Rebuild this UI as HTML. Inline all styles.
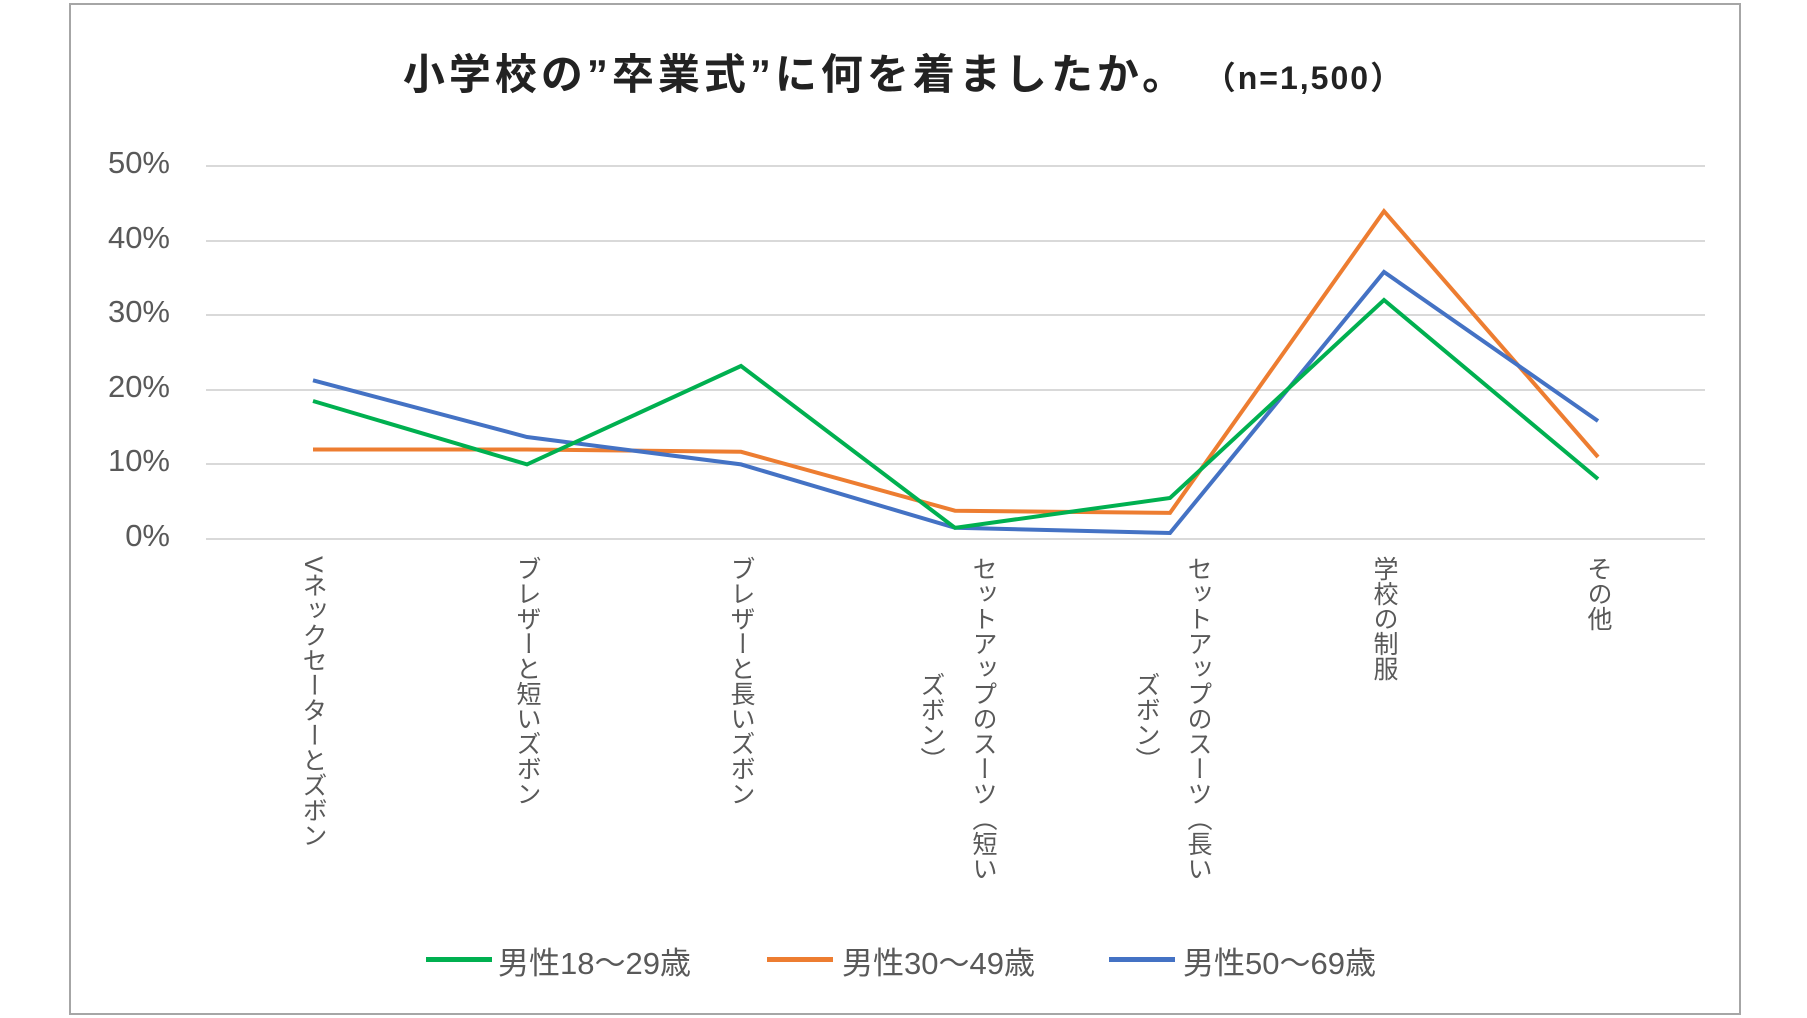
<!DOCTYPE html>
<html><head><meta charset="utf-8"><style>
body{margin:0;width:1807px;height:1018px;background:#fff;position:relative;overflow:hidden;font-family:"Liberation Sans","Noto Sans CJK JP",sans-serif}
.frame{position:absolute;left:69px;top:3px;width:1672px;height:1012px;border:2px solid #a6a6a6;box-sizing:border-box}
.title{position:absolute;left:0;width:1807px;top:41px;text-align:center;font-size:42px;font-weight:bold;color:#222;letter-spacing:4px}
.title span{font-size:32px;letter-spacing:2px}
.yl{position:absolute;left:70px;width:100px;text-align:right;font-size:31px;color:#595959;line-height:30px}
.cl{position:absolute;top:556px;writing-mode:vertical-rl;font-size:25px;color:#595959;line-height:30px;white-space:pre}
.lg{position:absolute;top:938px;font-size:31px;color:#595959}
.lgl{position:absolute;top:957px;height:5px;width:66px}
</style></head><body>
<div class="frame"></div>
<div class="title">小学校の”卒業式”に何を着ましたか。 <span>（n=1,500）</span></div>
<svg width="1807" height="1018" style="position:absolute;left:0;top:0">
<g stroke="#d9d9d9" stroke-width="2">
<line x1="206" x2="1705" y1="166" y2="166"/><line x1="206" x2="1705" y1="241" y2="241"/>
<line x1="206" x2="1705" y1="315" y2="315"/><line x1="206" x2="1705" y1="390" y2="390"/>
<line x1="206" x2="1705" y1="464" y2="464"/><line x1="206" x2="1705" y1="539" y2="539"/>
</g>
<g fill="none" stroke-width="4" stroke-linejoin="miter">
<polyline stroke="#ed7d31" points="313,449.5 527,449.5 741,451.8 955,510.7 1170,512.9 1384,211.2 1598,457"/>
<polyline stroke="#4472c4" points="313,380.3 527,437 741,464.4 955,527.8 1170,533 1384,272 1598,421"/>
<polyline stroke="#00b050" points="313,401 527,464.4 741,366 955,527.8 1170,498 1384,300 1598,479"/>
</g>
</svg>
<div class="yl" style="top:148px">50%</div>
<div class="yl" style="top:223px">40%</div>
<div class="yl" style="top:297px">30%</div>
<div class="yl" style="top:372px">20%</div>
<div class="yl" style="top:446px">10%</div>
<div class="yl" style="top:521px">0%</div>
<div class="cl" style="left:298px">Vネックセーターとズボン</div>
<div class="cl" style="left:512px">ブレザーと短いズボン</div>
<div class="cl" style="left:726px">ブレザーと長いズボン</div>
<div class="cl" style="left:968px">セットアップのスーツ（短い</div>
<div class="cl" style="left:916px;top:672px">ズボン）</div>
<div class="cl" style="left:1183px">セットアップのスーツ（長い</div>
<div class="cl" style="left:1131px;top:672px">ズボン）</div>
<div class="cl" style="left:1369px">学校の制服</div>
<div class="cl" style="left:1583px">その他</div>
<div class="lgl" style="left:426px;background:#00b050"></div><div class="lg" style="left:498px">男性18～29歳</div>
<div class="lgl" style="left:767px;background:#ed7d31"></div><div class="lg" style="left:842px">男性30～49歳</div>
<div class="lgl" style="left:1109px;background:#4472c4"></div><div class="lg" style="left:1183px">男性50～69歳</div>
</body></html>
